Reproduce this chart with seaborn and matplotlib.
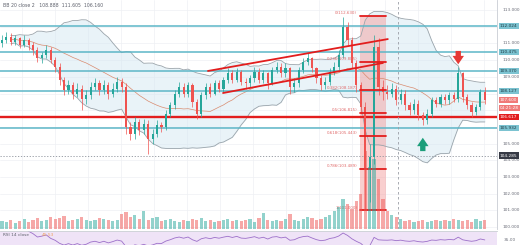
import numpy as np
import pandas as pd
import matplotlib
matplotlib.use("Agg")
import matplotlib.pyplot as plt
import matplotlib.transforms as mtransforms
import seaborn as sns

# ---------------- data ----------------
first_open = 111.0
closes = [111.2, 111.4, 111.1, 111.3, 110.9, 111.2, 110.9, 110.6, 110.1, 110.3,
          110.6, 110.0, 109.6, 108.8, 108.2, 108.5, 108.0, 108.3, 107.7, 107.9,
          108.4, 108.6, 108.2, 108.5, 108.0, 108.3, 108.7, 108.4, 106.0, 105.6,
          106.3, 105.8, 106.2, 105.3, 105.6, 106.1, 106.0, 106.8, 107.3, 108.0,
          108.4, 108.0, 108.5, 107.5, 106.8, 107.9, 108.4, 108.0, 108.6, 108.3,
          108.8, 109.2, 108.8, 109.3, 108.7, 108.6, 108.9, 109.3, 108.8, 109.2,
          108.6, 109.4, 109.6, 109.2, 109.5, 108.4, 108.6, 109.4, 109.9, 110.1,
          109.5, 108.9, 108.5, 108.7, 109.3, 109.6, 110.3, 112.0, 111.2, 109.8,
          108.5, 107.2, 103.5, 104.2, 110.8, 108.4, 108.1, 108.0, 108.3, 107.6,
          108.0, 107.3, 107.0, 107.4, 106.7, 106.4, 106.8, 107.6, 107.4, 107.8,
          107.6, 107.9, 107.7, 109.2, 107.8, 107.3, 106.9, 107.2, 108.1, 107.6]
highs = [111.5, 111.7, 111.6, 111.5, 111.4, 111.5, 111.3, 111.1, 110.8, 110.5,
         110.9, 110.8, 110.2, 109.8, 109.0, 108.8, 108.7, 108.6, 108.5, 108.2,
         108.7, 108.9, 108.8, 108.8, 108.7, 108.6, 109.0, 108.9, 108.6, 106.3,
         106.6, 106.5, 106.5, 106.4, 105.9, 106.4, 106.3, 107.0, 107.5, 108.2,
         108.7, 108.6, 108.7, 108.6, 107.7, 108.1, 108.6, 108.6, 108.8, 108.8,
         109.0, 109.5, 109.4, 109.5, 109.4, 108.9, 109.1, 109.6, 109.5, 109.4,
         109.3, 109.6, 109.9, 109.8, 109.8, 109.6, 108.9, 109.6, 110.1, 110.4,
         110.2, 109.6, 109.1, 109.0, 109.5, 109.9, 110.6, 112.6, 112.3, 111.4,
         110.0, 108.7, 107.5, 105.0, 111.5, 111.3, 108.8, 108.5, 108.6, 108.5,
         108.3, 108.2, 107.5, 107.7, 107.6, 106.9, 107.1, 107.8, 107.8, 108.0,
         108.0, 108.1, 108.1, 109.6, 109.3, 108.0, 107.5, 107.4, 108.3, 108.4]
lows = [110.8, 111.0, 110.9, 110.9, 110.7, 110.8, 110.6, 110.3, 109.9, 109.8,
        110.1, 109.8, 109.3, 108.5, 107.9, 108.0, 107.7, 107.8, 107.0, 107.4,
        107.7, 108.2, 107.9, 108.0, 107.7, 107.8, 108.1, 108.1, 105.6, 105.2,
        105.3, 105.5, 105.6, 104.4, 105.0, 105.4, 105.7, 105.8, 106.6, 107.1,
        107.8, 107.8, 107.8, 107.2, 106.5, 106.6, 107.7, 107.8, 107.9, 108.1,
        108.1, 108.6, 108.6, 108.7, 108.5, 108.3, 108.4, 108.7, 108.6, 108.6,
        108.3, 108.5, 109.2, 109.0, 109.0, 108.0, 108.1, 108.4, 109.2, 109.7,
        109.3, 108.6, 108.2, 108.3, 108.5, 109.1, 109.4, 110.1, 110.9, 109.5,
        108.1, 106.8, 101.0, 101.5, 103.8, 107.9, 107.6, 107.7, 107.8, 107.3,
        107.4, 107.0, 106.7, 106.8, 106.4, 106.1, 106.2, 106.6, 107.2, 107.2,
        107.4, 107.4, 107.5, 107.5, 107.5, 107.1, 106.6, 106.7, 107.0, 107.4]
volumes = [8, 7, 9, 6, 8, 10, 7, 9, 11, 8,
           9, 12, 10, 11, 13, 8, 9, 10, 12, 9,
           8, 9, 11, 10, 9, 8, 9, 15, 17, 12,
           14, 10, 18, 9, 11, 12, 8, 9, 10, 8,
           7, 9, 8, 10, 9, 11, 8, 9, 7, 8,
           9, 10, 8, 9, 8, 9, 10, 7, 11, 16,
           9, 8, 9, 8, 10, 15, 9, 8, 10, 12,
           11, 9, 10, 12, 14, 18, 22, 30, 25, 20,
           28, 35, 78, 62, 70, 50, 30, 18, 14, 12,
           10, 8, 9, 7, 8, 9, 7, 8, 9, 8,
           9, 8, 10, 9, 8, 9, 7, 10, 8, 9]

teal_levels = [112.024, 110.475, 109.370, 108.127, 105.932]
red_level = 106.617
dotted_level = 104.285
fib_ratios = [0, 0.236, 0.382, 0.5, 0.618, 0.786, 1]
fib_top, fib_bottom = 112.63, 101.00
fib_span = [80.8, 86.6]
channel_upper_x, channel_upper_y = [46.5, 87.1], [109.35, 111.26]
channel_lower_x, channel_lower_y = [49.9, 86.0], [108.03, 109.83]
vline_idx = 89.5
arrow_down_at = (103, 110.55, 109.75)
arrow_up_at = (95, 104.55, 105.35)
plain_ticks = [113, 111, 110, 109, 105, 104, 103, 102, 101, 100]
bb_legend_values = ["108.888", "111.605", "106.160"]
rsi_value = "45.53"
last_price, countdown = "107.600", "04:21:28"

# ---------------- derived ----------------
n = len(closes)
idx = np.arange(n)
opens = [first_open] + closes[:-1]
df = pd.DataFrame({"i": idx, "open": opens, "close": closes, "high": highs,
                   "low": lows, "vol": volumes})
s = df["close"]
df["mid"] = s.rolling(20, min_periods=3).mean()
sd = s.rolling(20, min_periods=3).std(ddof=0)
df["upper"] = df["mid"] + 2 * sd
df["lower"] = df["mid"] - 2 * sd
delta = s.diff()
gain = delta.clip(lower=0).ewm(alpha=1 / 14, adjust=False).mean()
loss = (-delta.clip(upper=0)).ewm(alpha=1 / 14, adjust=False).mean()
df["rsi"] = 100 - 100 / (1 + gain / loss.replace(0, np.nan))

UP, DOWN = "#26a69a", "#ef5350"
TEAL, RED = "#5db6c7", "#e21d1d"

sns.set_theme(style="white")
plt.rcParams["font.family"] = ["DejaVu Sans"]

fig = plt.figure(figsize=(5.2, 2.45), dpi=100)
fig.patch.set_facecolor("white")
W = 497 / 520
ax = fig.add_axes([0, 16 / 245, W, 229 / 245])
axv = ax.twinx()
ax_r = fig.add_axes([0, 0, W, 14 / 245])

xlim = (-0.45, 111.75)
ax.set_xlim(*xlim)
ax.set_ylim(99.886, 113.6)

# volume (drawn on top, translucent)
axv.set_ylim(0, 229)
vcols = [UP if c >= o else DOWN for o, c in zip(opens, closes)]
axv.bar(df["i"], df["vol"], width=0.72, color=vcols, alpha=0.5, linewidth=0)
axv.axis("off")

# grid
ax.set_xticks(np.arange(4.5, 112, 7.45))
ax.set_yticks(np.arange(100, 114, 1))
ax.grid(True, color="#eef0f4", lw=0.5)
ax.tick_params(length=0, labelleft=False, labelbottom=False, labelright=False)
for sp in ["top", "left", "bottom"]:
    ax.spines[sp].set_visible(False)
ax.spines["right"].set_color("#c9ccd3")
ax.spines["right"].set_linewidth(0.6)

# bollinger bands
ax.fill_between(df["i"], df["lower"], df["upper"], color="#d5e8f2", alpha=0.5, lw=0)
sns.lineplot(data=df, x="i", y="upper", ax=ax, color="#9aa4ab", lw=0.6)
sns.lineplot(data=df, x="i", y="lower", ax=ax, color="#9aa4ab", lw=0.6)
sns.lineplot(data=df, x="i", y="mid", ax=ax, color="#d98b6f", lw=0.5)

# fib rectangle
ax.fill_between(fib_span, fib_bottom, fib_top, color="#f4a0a0", alpha=0.5, lw=0, zorder=1.5)

# horizontal levels
for lv in teal_levels:
    ax.axhline(lv, color=TEAL, lw=1.1, zorder=2)
ax.axhline(red_level, color=RED, lw=1.7, zorder=2)
ax.axhline(dotted_level, color="#8d929b", lw=0.6, ls=(0, (1.5, 2)), zorder=2)
ax.axvline(vline_idx, color="#9a9ea6", lw=0.6, ls=(0, (3, 3)), zorder=2)

# candles
for o, c, h, l, i, col in zip(opens, closes, highs, lows, idx, vcols):
    ax.vlines(i, l, h, color=col, lw=0.5, zorder=3)
    ax.bar(i, max(abs(c - o), 0.04), bottom=min(o, c), width=0.48, color=col,
           linewidth=0, zorder=3.1)

# fib levels
for r in fib_ratios:
    p = fib_top - r * (fib_top - fib_bottom)
    ax.plot(fib_span, [p, p], color=RED, lw=1.3, zorder=4)
    lab = ("%g" % r) + "(%.3f)" % p
    ax.text(fib_span[0] - 0.6, p + 0.05, lab, fontsize=2.9, color="#e06b6b",
            ha="right", va="bottom", zorder=4)

# channel
ax.plot(channel_upper_x, channel_upper_y, color=RED, lw=1.3, zorder=4)
ax.plot(channel_lower_x, channel_lower_y, color=RED, lw=1.3, zorder=4)

# arrows
astyle = "simple,head_length=0.55,head_width=0.75,tail_width=0.35"
ax.annotate("", xy=(arrow_down_at[0], arrow_down_at[2]), xytext=(arrow_down_at[0], arrow_down_at[1]),
            arrowprops=dict(arrowstyle=astyle, fc="#e53935", ec="none", mutation_scale=11,
                            shrinkA=0, shrinkB=0), zorder=5)
ax.annotate("", xy=(arrow_up_at[0], arrow_up_at[2]), xytext=(arrow_up_at[0], arrow_up_at[1]),
            arrowprops=dict(arrowstyle=astyle, fc="#1b9e7a", ec="none", mutation_scale=11,
                            shrinkA=0, shrinkB=0), zorder=5)

# legend text
ax.text(0.006, 0.988, "BB 20 close 2   " + "  ".join(bb_legend_values),
        transform=ax.transAxes, fontsize=3.3, color="#5d606b", va="top", ha="left")

# right axis labels
tr = mtransforms.blended_transform_factory(ax.transAxes, ax.transData)
for t in plain_ticks:
    ax.text(1.012, t, "%.3f" % t, transform=tr, fontsize=3.1, color="#6a6d78",
            va="center", ha="left", clip_on=False)
def box(p, txt, fc, tc):
    ax.text(1.006, p, txt, transform=tr, fontsize=3.1, color=tc, va="center", ha="left",
            clip_on=False, zorder=6,
            bbox=dict(boxstyle="square,pad=0.25", fc=fc, ec="none"))
for lv in teal_levels:
    box(lv, "%.3f" % lv, "#7cc3d1", "#1d3b44")
box(red_level, "%.3f" % red_level, RED, "white")
box(107.62, last_price, "#f07a78", "white")
box(107.12, countdown, "#f07a78", "white")
box(dotted_level, "%.3f" % dotted_level, "#363a45", "white")

# RSI panel
ax_r.set_xlim(*xlim)
ax_r.set_ylim(35, 74)
ax_r.fill_between(xlim, 30, 70, color="#efe3f7", lw=0)
sns.lineplot(data=df, x="i", y="rsi", ax=ax_r, color="#9c6fc9", lw=0.6)
ax_r.set_xticks([])
ax_r.set_yticks([])
ax_r.set_xlabel("")
ax_r.set_ylabel("")
for sp in ["left", "bottom", "right"]:
    ax_r.spines[sp].set_visible(False)
ax_r.spines["top"].set_color("#c9ccd3")
ax_r.spines["top"].set_linewidth(0.6)
ax_r.text(0.006, 0.72, "RSI 14 close", transform=ax_r.transAxes, fontsize=3.1,
          color="#5d606b", va="center", ha="left")
ax_r.text(0.085, 0.72, rsi_value, transform=ax_r.transAxes, fontsize=3.1,
          color="#f0a35e", va="center", ha="left")
fig.text(W + 0.012, 5 / 245, "35.00", fontsize=3.1, color="#6a6d78", va="center")

ax.set_xlabel("")
ax.set_ylabel("")
fig.savefig("out.png", dpi=100, facecolor="white")
